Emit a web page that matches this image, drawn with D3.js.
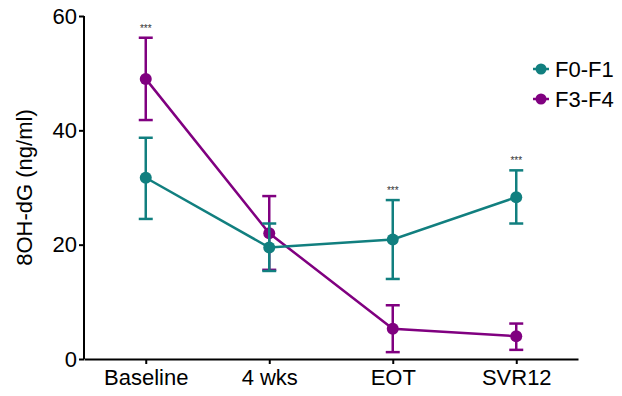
<!DOCTYPE html>
<html>
<head>
<meta charset="utf-8">
<script src="https://cdn.jsdelivr.net/npm/d3@7"></script>
<style>
  body { margin: 0; background: #fff; }
  svg { display: block; font-family: "Liberation Sans", Arial, sans-serif; }
</style>
</head>
<body>
<div id="chart"></div>
<script>
// Timepoints and group values (mean with upper/lower error)
const timepoints = ['Baseline', '4 wks', 'EOT', 'SVR12'];
const yTicks = [0, 20, 40, 60];

const f01Mean = [31.7, 19.5, 20.9, 28.3];
const f01Upper = [38.7, 23.7, 27.8, 33.0];
const f01Lower = [24.5, 15.4, 14.0, 23.7];

const f34Mean = [49.0, 22.0, 5.3, 4.0];
const f34Upper = [56.2, 28.5, 9.4, 6.2];
const f34Lower = [41.8, 15.6, 1.2, 1.6];

const sigLabels = ['***', '', '***', '***'];

const width = 622, height = 396;

const svg = d3.select('#chart')
    .append('svg')
    .attr('width', width)
    .attr('height', height);

const x = d3.scalePoint()
    .domain(timepoints)
    .range([84, 578])
    .padding(0.5);

const y = d3.scaleLinear()
    .domain([0, 60])
    .range([359, 16]);

// axes
const xAxis = svg.append('g')
    .attr('transform', `translate(0,${y(0)})`)
    .call(d3.axisBottom(x).tickSize(5).tickPadding(5).tickSizeOuter(0));
const yAxis = svg.append('g')
    .attr('transform', `translate(${x.range()[0]},0)`)
    .call(d3.axisLeft(y).tickValues(yTicks).tickSize(5).tickPadding(2).tickSizeOuter(0));

[xAxis, yAxis].forEach(g => {
    g.select('.domain').attr('stroke', '#000').attr('stroke-width', 2);
    g.selectAll('.tick line').attr('stroke', '#000').attr('stroke-width', 2);
    g.selectAll('.tick text')
        .attr('fill', '#000')
        .style('font-family', '"Liberation Sans", Arial, sans-serif')
        .style('font-size', '22px');
});
yAxis.select('.domain').attr('d', `M0,${y(0)}V${y(60)}`);

// y label
svg.append('text')
    .attr('transform', `translate(26,${(y(0) + y(60)) / 2}) rotate(-90)`)
    .attr('text-anchor', 'middle')
    .attr('dominant-baseline', 'middle')
    .style('font-size', '22px')
    .attr('fill', '#000')
    .text('8OH-dG (ng/ml)');

const series = [
    { name: 'F3-F4', color: '#800080', mean: f34Mean, upper: f34Upper, lower: f34Lower },
    { name: 'F0-F1', color: '#117f7f', mean: f01Mean, upper: f01Upper, lower: f01Lower }
];

const line = d3.line()
    .x(d => x(d.t))
    .y(d => y(d.v));

const capW = 7;

series.forEach(s => {
    const pts = timepoints.map((t, i) => ({ t, v: s.mean[i], hi: s.upper[i], lo: s.lower[i] }));
    const g = svg.append('g');

    g.append('path')
        .datum(pts)
        .attr('d', line)
        .attr('fill', 'none')
        .attr('stroke', s.color)
        .attr('stroke-width', 2.5);

    const eb = g.selectAll('.err')
        .data(pts)
        .enter()
        .append('g')
        .attr('stroke', s.color)
        .attr('stroke-width', 2.5);
    eb.append('line')
        .attr('x1', d => x(d.t)).attr('x2', d => x(d.t))
        .attr('y1', d => y(d.hi)).attr('y2', d => y(d.lo));
    eb.append('line')
        .attr('x1', d => x(d.t) - capW).attr('x2', d => x(d.t) + capW)
        .attr('y1', d => y(d.hi)).attr('y2', d => y(d.hi));
    eb.append('line')
        .attr('x1', d => x(d.t) - capW).attr('x2', d => x(d.t) + capW)
        .attr('y1', d => y(d.lo)).attr('y2', d => y(d.lo));

    g.selectAll('circle')
        .data(pts)
        .enter()
        .append('circle')
        .attr('cx', d => x(d.t))
        .attr('cy', d => y(d.v))
        .attr('r', 6)
        .attr('fill', s.color);
});

// significance stars above the highest error bar
svg.selectAll('.sig')
    .data(timepoints)
    .enter()
    .append('text')
    .attr('x', d => x(d))
    .attr('y', (d, i) => y(Math.max(f01Upper[i], f34Upper[i])) - 6)
    .attr('text-anchor', 'middle')
    .style('font-size', '10px')
    .attr('fill', '#333')
    .text((d, i) => sigLabels[i]);

// legend
const legendItems = [series[1], series[0]];
const legend = svg.append('g')
    .attr('transform', 'translate(541,69)');
const li = legend.selectAll('g')
    .data(legendItems)
    .enter()
    .append('g')
    .attr('transform', (d, i) => `translate(0,${i * 30})`);
li.append('line')
    .attr('x1', -8).attr('x2', 8)
    .attr('stroke', d => d.color)
    .attr('stroke-width', 2.5);
li.append('circle')
    .attr('r', 5.5)
    .attr('fill', d => d.color);
li.append('text')
    .attr('x', 14)
    .attr('dy', '0.36em')
    .style('font-size', '22px')
    .attr('fill', '#000')
    .text(d => d.name);
</script>
</body>
</html>
